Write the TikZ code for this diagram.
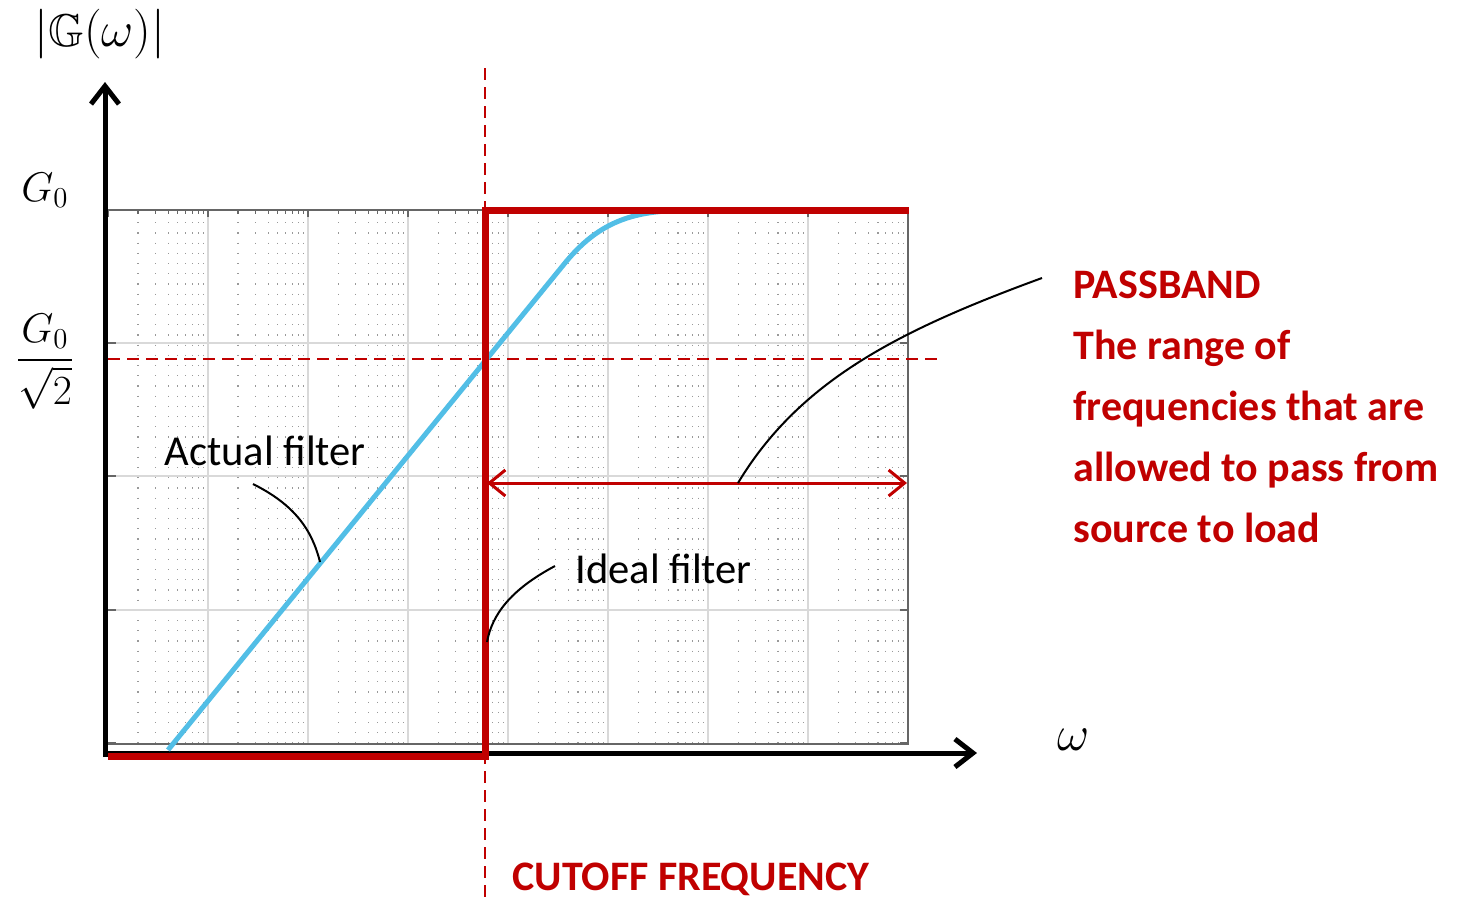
\documentclass[tikz,border=0pt]{standalone}
\usepackage{amssymb}
\usepackage{amsmath}
\usepackage{fontspec}
\setmainfont{Carlito}
\usetikzlibrary{arrows.meta}
\usetikzlibrary{positioning}
\definecolor{mred}{RGB}{192, 0, 0}
\definecolor{mcyan}{RGB}{82, 190, 230}
\tikzset{axis/.style = {line width=2.5pt, -{Straight Barb[length=9pt, width=14pt]}}}
\tikzset{ideal/.style = {mred, line width=3.5pt}}
\tikzset{actual/.style = {mcyan, line width=2.5pt}}
\tikzset{cut/.style = {mred, line width=1pt, dash pattern=on 6pt off 3.5pt}}
\tikzset{band/.style = {mred, line width=1.5pt, {Straight Barb[length=8pt, width=13pt]}-{Straight Barb[length=8pt, width=13pt]}}}
\tikzset{leader/.style = {black, line width=1pt}}
\tikzset{minor/.style = {black!40, line width=0.6pt, dash pattern=on 0.6pt off 4.5pt}}
\tikzset{major/.style = {black!15, line width=0.6pt}}
\tikzset{frame/.style = {black!60, line width=0.6pt}}
\tikzset{lbl/.style = {inner sep=0, font=\fontsize{21.3}{25}\selectfont}}
\tikzset{mth/.style = {inner sep=0, font=\fontsize{22}{26}\selectfont}}
\tikzset{note/.style = {inner sep=0, mred, font=\fontsize{21}{30.5}\selectfont\bfseries}}

\begin{document}
\begin{tikzpicture}[x=0.5pt, y=-0.5pt]
    \useasboundingbox (0, 0) rectangle (1458, 900);

    % grid
    \foreach \d in {0,...,7}
      \foreach \k in {2,...,9}
        \draw [minor] ({108 + 100*\d + 100*log10(\k)}, 212) -- ++(0, 533);
    \foreach \x in {208, 308, ..., 808}
      \draw [major] (\x, 210) -- (\x, 745);
    \foreach \y in {343, 476, 610}
      \draw [major] (108, \y) -- (908, \y);
    \draw [frame] (108, 744) -- (908, 744);
    \draw [frame] (108, 210) -- (908, 210) -- (908, 745);
    \foreach \d in {0,...,7} {
      \draw [frame] ({108 + 100*\d}, 210) -- ++(0, 7);
      \foreach \k in {2,...,9}
        \draw [frame] ({108 + 100*\d + 100*log10(\k)}, 210) -- ++(0, 4);
    }
    \foreach \y in {343, 476, 610, 743} {
      \draw [frame] (908, \y) -- ++(-8, 0);
      \draw [frame] (108, \y) -- ++(8, 0);
    }

    % axes
    \draw [axis] (105, 757) -- (105, 82);
    \draw [axis] (103, 753) -- (977, 753);

    % cutoff and half power
    \draw [cut] (485, 68) -- (485, 900);
    \draw [cut] (108, 359) -- (938, 359);

    % filters
    \draw [actual] (168, 750) -- (565, 263) .. controls (605, 214) and (645, 210) .. (700, 210) -- (905, 210);
    \draw [ideal] (108, 756) -- (485, 756) -- (485, 210) -- (909, 210);
    \draw [band] (487, 483) -- (907, 483);

    % labels
    \node [mth, font=\fontsize{23}{27}\selectfont] (ylab) at (100, 34) {$|\mathbb{G}(\omega)|$};
    \node [mth] (gzero) at (45, 190) {$G_0$};
    \node [mth] (ghalf) at (45, 362) {$\dfrac{G_0}{\sqrt{2}}$};
    \node [mth, font=\fontsize{24}{28}\selectfont] (wlab) at (1074, 740) {$\omega$};
    \node [lbl, anchor=base west] (actual) at (164, 465) {Actual filter};
    \node [lbl, anchor=base west] (ideal) at (575, 583) {Ideal filter};
    \node [note, anchor=north west, align=left] (passband) at (1073, 271)
      {PASSBAND\\The range of\\frequencies that are\\allowed to pass from\\source to load};
    \node [note, anchor=base west] (cutoff) at (512, 890) {CUTOFF FREQUENCY};

    % leaders
    \coordinate (actualtip) at (253, 484);
    \coordinate (actualon) at (320, 562);
    \coordinate (idealtip) at (555, 566);
    \coordinate (idealon) at (487, 642);
    \coordinate (passtip) at (1042, 278);
    \coordinate (passon) at (738, 483);
    \draw [leader] (actualtip) .. controls (295, 505) and (312, 530) .. (actualon);
    \draw [leader] (idealtip) .. controls (510, 590) and (492, 615) .. (idealon);
    \draw [leader] (passtip) .. controls (900, 330) and (800, 380) .. (passon);
\end{tikzpicture}
\end{document}
